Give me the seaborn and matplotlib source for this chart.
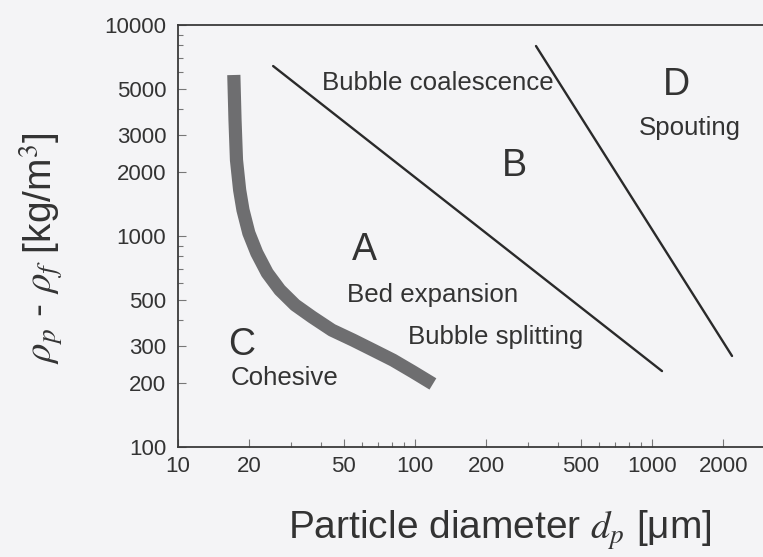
import matplotlib
matplotlib.use("Agg")
import matplotlib.pyplot as plt
import seaborn as sns
import pandas as pd
from matplotlib.ticker import FixedLocator, FixedFormatter, NullFormatter

# ---------------- data ----------------
# Cohesive (C) / aeratable (A) boundary - thick grey band
cohesive_dp = [17.2, 17.4, 17.65, 18.2, 18.8, 19.9, 21.5, 23.8, 26.9, 31.2,
               36.8, 44.6, 54.8, 66.5, 80.8, 98.1, 119]
cohesive_drho = [5795, 3545, 2292, 1652, 1328, 1033, 831, 668, 555, 471,
                 413, 358, 321, 288, 258, 227, 199]

# A / B boundary
ab_dp = [25.2, 1102]
ab_drho = [6390, 229]

# B / D boundary
bd_dp = [324, 2176]
bd_drho = [7950, 270]

x_major = [10, 20, 50, 100, 200, 500, 1000, 2000]
x_major_labels = ["10", "20", "50", "100", "200", "500", "1000", "2000"]
x_minor = [30, 40, 60, 70, 80, 90, 300, 400, 600, 700, 800, 900,
           3000, 4000, 5000, 6000, 7000, 8000, 9000]
y_major = [100, 200, 300, 500, 1000, 2000, 3000, 5000, 10000]
y_major_labels = ["100", "200", "300", "500", "1000", "2000", "3000", "5000", "10000"]
y_minor = [400, 600, 700, 800, 900, 4000, 6000, 7000, 8000, 9000]

big_labels = ["A", "B", "C", "D"]
big_x = [61, 262, 18.6, 1262]
big_y = [859, 2148, 304, 5195]

small_labels = ["Bubble coalescence", "Bed expansion", "Bubble splitting", "Cohesive", "Spouting"]
small_x = [40.5, 119, 93.3, 16.6, 1445]
small_y = [5309, 525, 332, 212, 3250]
small_ha = ["left", "center", "left", "left", "center"]

# ---------------- style ----------------
sns.set_theme(style="white")
plt.rcParams['font.family'] = ['Liberation Sans', 'DejaVu Sans']
plt.rcParams['mathtext.fontset'] = 'stix'

bg = "#f4f4f6"
ink = "#333333"

fig = plt.figure(figsize=(7.63, 5.57), dpi=100, facecolor=bg)
W, H = 763, 557
ax = fig.add_axes([178 / W, 110 / H, 3 * 237 / W, 422 / H])
ax.set_facecolor(bg)

df_c = pd.DataFrame({"dp": cohesive_dp, "drho": cohesive_drho})
df_ab = pd.DataFrame({"dp": ab_dp, "drho": ab_drho})
df_bd = pd.DataFrame({"dp": bd_dp, "drho": bd_drho})

sns.lineplot(data=df_c, x="dp", y="drho", ax=ax, color="#6e6e70", linewidth=9.5,
             sort=False, estimator=None, solid_capstyle="butt", solid_joinstyle="round")
sns.lineplot(data=df_ab, x="dp", y="drho", ax=ax, color="#2a2a2a", linewidth=1.7,
             sort=False, estimator=None)
sns.lineplot(data=df_bd, x="dp", y="drho", ax=ax, color="#2a2a2a", linewidth=1.7,
             sort=False, estimator=None)

ax.set_xscale("log")
ax.set_yscale("log")
ax.set_xlim(10, 10000)
ax.set_ylim(100, 10000)

ax.xaxis.set_major_locator(FixedLocator(x_major))
ax.xaxis.set_major_formatter(FixedFormatter(x_major_labels))
ax.xaxis.set_minor_locator(FixedLocator(x_minor))
ax.xaxis.set_minor_formatter(NullFormatter())
ax.yaxis.set_major_locator(FixedLocator(y_major))
ax.yaxis.set_major_formatter(FixedFormatter(y_major_labels))
ax.yaxis.set_minor_locator(FixedLocator(y_minor))
ax.yaxis.set_minor_formatter(NullFormatter())

ax.tick_params(which="both", direction="in", color="#777777", width=0.8,
               bottom=True, left=True, top=False, right=False)
ax.tick_params(which="major", length=5.5, labelsize=16, labelcolor=ink)
ax.tick_params(axis="x", which="major", pad=6.5)
ax.tick_params(axis="y", which="major", pad=8.5)
ax.tick_params(which="minor", length=3.5)

for side in ["left", "bottom", "top"]:
    ax.spines[side].set_visible(True)
    ax.spines[side].set_color("#3a3a3a")
    ax.spines[side].set_linewidth(1.3)
ax.spines["right"].set_visible(False)

ax.set_xlabel("")
ax.set_ylabel("")

for t, x, y in zip(big_labels, big_x, big_y):
    ax.text(x, y, t, fontsize=27, color=ink, ha="center", va="center")
for t, x, y, ha in zip(small_labels, small_x, small_y, small_ha):
    ax.text(x, y, t, fontsize=18.6, color=ink, ha=ha, va="center")

fig.text(500 / W, 1 - 530 / H, r"Particle diameter $d_p$ [μm]", fontsize=28,
         color=ink, ha="center", va="center")
fig.text(42 / W, 1 - 248 / H, r"$\rho_p$ - $\rho_f$ [kg/m$^3$]", fontsize=28,
         color=ink, ha="center", va="center", rotation=90)

fig.savefig("out.png", dpi=100, facecolor=bg)
